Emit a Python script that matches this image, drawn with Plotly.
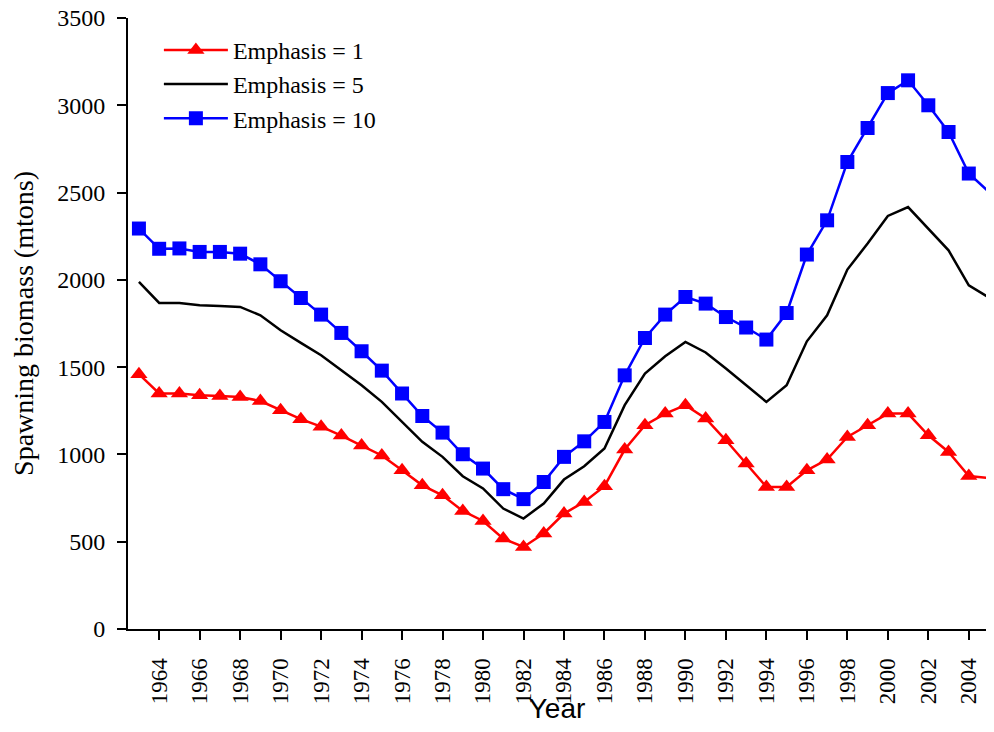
import plotly.graph_objects as go

years = list(range(1963, 2006))

emphasis_1 = [1460, 1349, 1349, 1339, 1334, 1329, 1306, 1253, 1202, 1159,
              1108, 1051, 994, 909, 823, 766, 676, 619, 518, 470,
              547, 661, 728, 818, 1028, 1167, 1234, 1282, 1206, 1081,
              948, 814, 814, 909, 971, 1100, 1167, 1234, 1234, 1110,
              1014, 876, 865]

emphasis_5 = [1988, 1868, 1868, 1854, 1850, 1845, 1797, 1711, 1639, 1568,
              1482, 1396, 1301, 1186, 1072, 986, 875, 805, 690, 633,
              719, 856, 932, 1034, 1282, 1463, 1562, 1644, 1584, 1492,
              1396, 1301, 1396, 1648, 1797, 2059, 2208, 2366, 2417, 2294,
              2169, 1969, 1898]

emphasis_10 = [2294, 2178, 2180, 2160, 2160, 2150, 2089, 1992, 1896, 1801,
               1696, 1591, 1480, 1349, 1220, 1125, 1001, 919, 801, 744,
               842, 986, 1075, 1186, 1453, 1667, 1801, 1902, 1864, 1787,
               1727, 1658, 1810, 2145, 2341, 2675, 2870, 3070, 3143, 3000,
               2847, 2609, 2503]

tick_years = list(range(1964, 2006, 2))
tick_labels = [str(y) for y in tick_years]
y_ticks = [0, 500, 1000, 1500, 2000, 2500, 3000, 3500]

serif = "Liberation Serif, Times New Roman, serif"

fig = go.Figure()
fig.add_trace(go.Scatter(
    x=years, y=emphasis_1, name="Emphasis = 1", mode="lines+markers",
    line=dict(color="#FF0000", width=2.5),
    marker=dict(symbol="triangle-up", size=15, color="#FF0000"),
    cliponaxis=False,
))
fig.add_trace(go.Scatter(
    x=years, y=emphasis_5, name="Emphasis = 5", mode="lines",
    line=dict(color="#000000", width=2.5),
    cliponaxis=False,
))
fig.add_trace(go.Scatter(
    x=years, y=emphasis_10, name="Emphasis = 10", mode="lines+markers",
    line=dict(color="#0000FF", width=2.5),
    marker=dict(symbol="square", size=14, color="#0000FF"),
    cliponaxis=False,
))

# page body has an 8px default margin, so the figure is sized/offset to compensate
fig.update_layout(
    width=978, height=716,
    margin=dict(l=120, r=0, t=10, b=95, autoexpand=False),
    paper_bgcolor="white", plot_bgcolor="white",
    font=dict(family=serif, size=24, color="black"),
    showlegend=True,
    legend=dict(
        x=0.036, y=0.984, xanchor="left", yanchor="top",
        bgcolor="rgba(0,0,0,0)", font=dict(family=serif, size=24),
        itemwidth=64, tracegroupgap=0,
    ),
    xaxis=dict(
        range=[1962.46, 2004.85], automargin=False,
        tickmode="array", tickvals=tick_years, ticktext=tick_labels,
        tickangle=-90, ticks="outside", ticklen=9, tickwidth=2,
        tickcolor="black", showline=True, linecolor="black", linewidth=2,
        showgrid=False, zeroline=False,
        tickfont=dict(family=serif, size=23),
        ticklabelstandoff=9,
        title=dict(text="Year", font=dict(family="Liberation Sans, Arial, sans-serif", size=28), standoff=7),
    ),
    yaxis=dict(
        range=[0, 3500], automargin=False,
        tickmode="array", tickvals=y_ticks,
        ticks="outside", ticklen=9, tickwidth=2, tickcolor="black",
        showline=True, linecolor="black", linewidth=2,
        showgrid=False, zeroline=False,
        tickfont=dict(family=serif, size=24),
        ticklabelstandoff=7, ticklabeloverflow="allow",
        title=dict(text="Spawning biomass (mtons)", font=dict(family=serif, size=28), standoff=16),
    ),
)

fig.write_html("out.html")
